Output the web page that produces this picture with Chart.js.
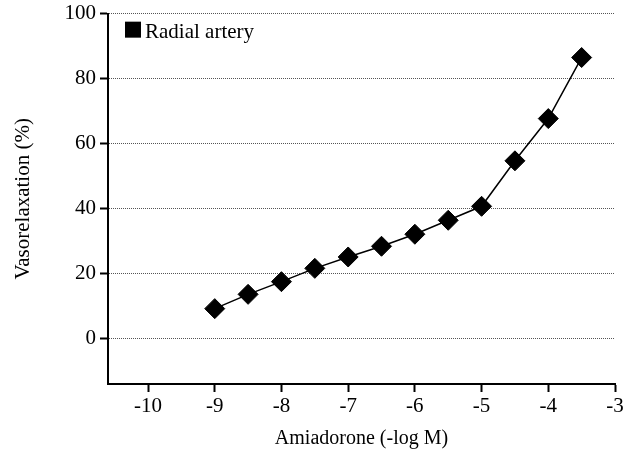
<!DOCTYPE html>
<html>
<head>
<meta charset="utf-8">
<script src="https://cdn.jsdelivr.net/npm/chart.js@4"></script>
<style>
  body { margin: 0; background: #fff; }
</style>
</head>
<body>
<canvas id="myChart" width="629" height="451"></canvas>
<script>
  // data

  var doses = [-9, -8.5, -8, -7.5, -7, -6.5, -6, -5.5, -5, -4.5, -4, -3.5];
  var relaxation = [9.2, 13.6, 17.5, 21.6, 25.1, 28.4, 32.1, 36.4, 40.7, 54.7, 67.7, 86.5];

  var xTicks = [-10, -9, -8, -7, -6, -5, -4, -3];
  var yTicks = [0, 20, 40, 60, 80, 100];

  var seriesName = 'Radial artery';

  var points = doses.map(function(d, i) {
    return {x: d, y: relaxation[i]};
  });

  var serif = '"Liberation Serif", "Times New Roman", serif';

  // legend drawn inside the plot, top left, like the original figure
  var insideLegend = {
    id: 'insideLegend',
    afterDraw: function(chart) {
      var ctx = chart.ctx;
      var area = chart.chartArea;
      var ds = chart.data.datasets[0];
      var x = area.left + 17;
      var y = area.top + 8;
      ctx.save();
      ctx.fillStyle = ds.backgroundColor;
      ctx.fillRect(x, y, 16, 16);
      ctx.fillStyle = 'black';
      ctx.font = '21px ' + serif;
      ctx.textBaseline = 'alphabetic';
      ctx.fillText(ds.label, x + 20, y + 16);
      ctx.restore();
    }
  };

  // chart set up

  var data = {
    datasets: [{
      label: seriesName,
      data: points,
      borderColor: 'black',
      backgroundColor: 'black',
      borderWidth: 1.5,
      pointStyle: 'rectRot',
      pointRadius: 10,
      pointBorderWidth: 1,
      pointBackgroundColor: 'black',
      pointBorderColor: 'black',
      tension: 0
    }]
  };

  const config = {
    type: 'line',
    data,
    plugins: [insideLegend],
    options: {
      responsive: false,
      animation: false,
      layout: { padding: { top: 0, right: 14, left: 0, bottom: 0 } },
      plugins: {
        legend: { display: false },
        tooltip: { enabled: false }
      },
      scales: {
        x: {
          type: 'linear',
          min: -10.6,
          max: -3,
          afterBuildTicks: function(scale) {
            scale.ticks = xTicks.map(function(v) { return {value: v}; });
          },
          afterFit: function(scale) { scale.height = 67; },
          grid: {
            drawOnChartArea: false,
            drawTicks: true,
            tickLength: 8,
            tickWidth: 2,
            tickColor: 'black'
          },
          border: { color: 'black', width: 2 },
          ticks: {
            color: 'black',
            font: { family: serif, size: 21 },
            padding: 2,
            maxRotation: 0
          },
          title: {
            display: true,
            text: 'Amiadorone (-log M)',
            color: 'black',
            font: { family: serif, size: 20 },
            padding: { top: 0, bottom: 0 }
          }
        },
        y: {
          type: 'linear',
          min: -14,
          max: 100,
          afterBuildTicks: function(scale) {
            scale.ticks = yTicks.map(function(v) { return {value: v}; });
          },
          afterFit: function(scale) { scale.width = 108; },
          grid: {
            color: '#555',
            lineWidth: 1,
            drawTicks: true,
            tickLength: 8,
            tickWidth: 2,
            tickColor: 'black',
            tickBorderDash: []
          },
          border: { color: 'black', width: 2, dash: [1, 1] },
          ticks: {
            color: 'black',
            font: { family: serif, size: 21, lineHeight: 0.92 },
            padding: 4
          },
          title: {
            display: true,
            text: 'Vasorelaxation (%)',
            color: 'black',
            font: { family: serif, size: 21 },
            padding: { top: 11, bottom: 0 }
          }
        }
      }
    }
  };

  // render chart

  var myChart = new Chart(
    document.getElementById('myChart'),
    config
  );
</script>
</body>
</html>
